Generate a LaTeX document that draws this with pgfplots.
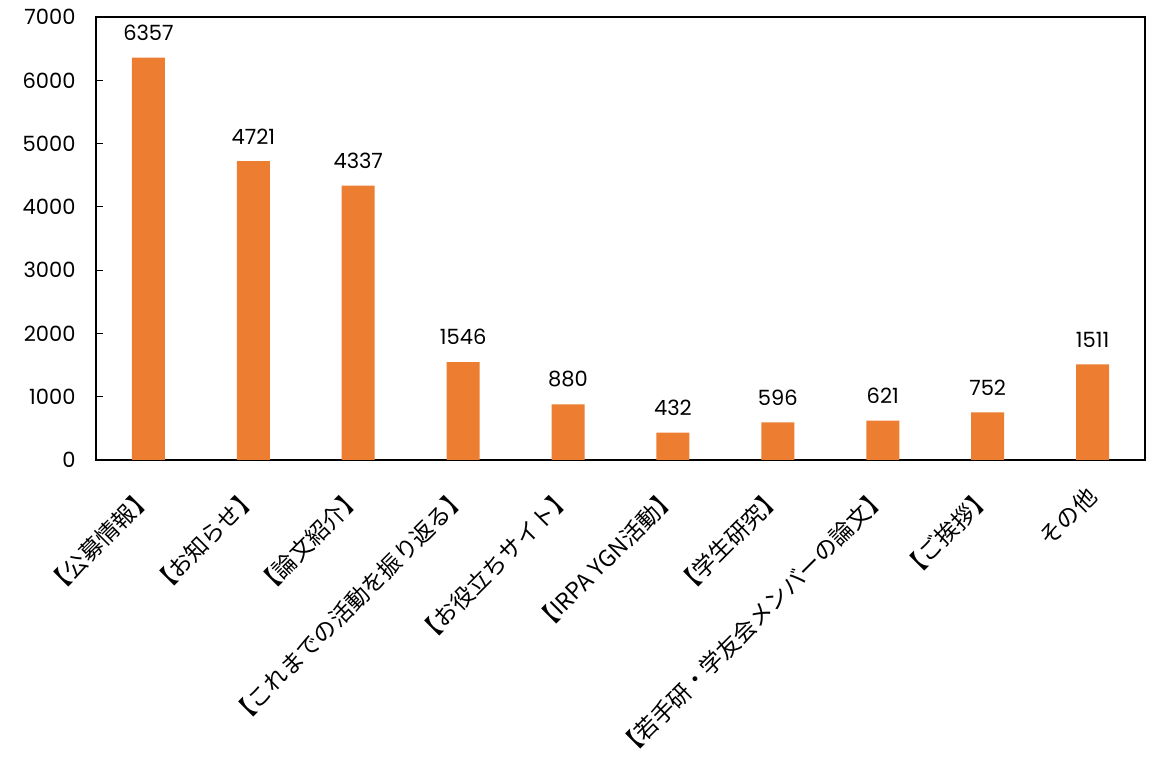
\documentclass[border=0pt]{standalone}
\usepackage{pgfplots}
\pgfplotsset{compat=1.18}
\usetikzlibrary{calc}
\usepackage{fontspec}
\setmainfont{Poppins}
\newfontfamily\cjk{Noto Sans CJK JP}
\definecolor{barorange}{HTML}{ED7D31}
\begin{document}
\begin{tikzpicture}
\begin{axis}[
  name=ax,
  scale only axis,
  width=1049pt, height=443pt,
  xmin=-0.5, xmax=9.5,
  ymin=0, ymax=7000,
  ytick={0,1000,...,7000},
  xtick={0,...,9},
  ytick pos=left,
  xticklabels={【公募情報】,【お知らせ】,【論文紹介】,【これまでの活動を振り返る】,【お役立ちサイト】,【IRPA YGN活動】,【学生研究】,【若手研・学友会メンバーの論文】,【ご挨拶】,その他},
  x tick style={draw=none},
  y tick style={black, line width=1pt},
  major tick length=7pt,
  tick align=inside,
  axis line style={black, line width=1.6pt},
  font=\fontsize{21}{25}\selectfont,
  /pgf/number format/assume math mode=true,
  yticklabel style={/pgf/number format/fixed, /pgf/number format/1000 sep={}, xshift=-17pt},
  xticklabel style={font=\fontsize{23}{27}\selectfont\cjk, rotate=45, anchor=north east, inner sep=0pt, xshift=-18pt, yshift=-7pt},
  scaled y ticks=false,
  ybar,
  bar width=33pt,
  nodes near coords,
  nodes near coords style={font=\fontsize{21}{25}\selectfont, /pgf/number format/1000 sep={}, inner sep=6pt, yshift=11pt},
  clip=false,
]
\addplot[fill=barorange, draw=none] coordinates {
(0,6357) (1,4721) (2,4337) (3,1546) (4,880) (5,432) (6,596) (7,621) (8,752) (9,1511)
};
\end{axis}
\pgfresetboundingbox
\path[use as bounding box] ($(ax.south west)+(-96pt,-301pt)$) rectangle ($(ax.north east)+(18pt,17pt)$);
\end{tikzpicture}
\end{document}
